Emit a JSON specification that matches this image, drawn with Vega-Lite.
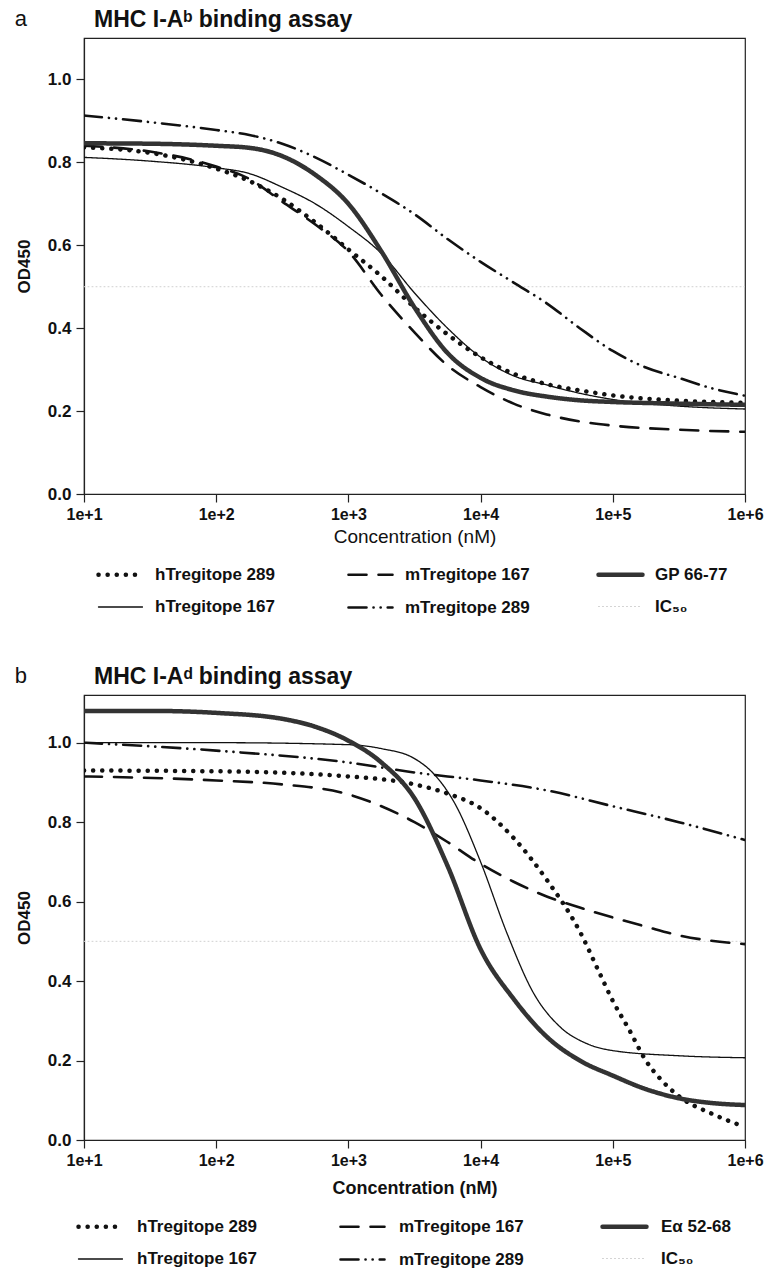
{
  "$schema": "https://vega.github.io/schema/vega-lite/v6.json",
  "background": "white",
  "padding": {"left": 14, "top": 8, "right": 0, "bottom": 0},
  "spacing": 49,
  "config": {
    "font": "Liberation Sans",
    "view": {"stroke": "#222", "strokeWidth": 1.2},
    "axis": {"labelFont": "Liberation Sans", "labelFontSize": 17, "labelFontWeight": "bold", "labelColor": "#111", "titleFont": "Liberation Sans", "titleFontSize": 17, "titleColor": "#111", "domainColor": "#222", "tickColor": "#222", "tickSize": 8, "grid": false, "domainWidth": 1.2, "tickWidth": 1.2},
    "legend": {"labelFont": "Liberation Sans", "labelFontSize": 17, "labelFontWeight": "bold", "labelColor": "#111"},
    "title": {"font": "Liberation Sans", "color": "#111"}
  },
  "datasets": {
    "a": [
      {"series": "IC₅₀", "conc": 10, "od": 0.5},
      {"series": "IC₅₀", "conc": 1000000, "od": 0.5},
      {"series": "hTregitope 289", "conc": 10, "od": 0.836},
      {"series": "hTregitope 289", "conc": 31.6, "od": 0.823},
      {"series": "hTregitope 289", "conc": 100, "od": 0.785},
      {"series": "hTregitope 289", "conc": 178, "od": 0.755},
      {"series": "hTregitope 289", "conc": 316, "od": 0.712},
      {"series": "hTregitope 289", "conc": 562, "od": 0.655},
      {"series": "hTregitope 289", "conc": 1000, "od": 0.59},
      {"series": "hTregitope 289", "conc": 1778, "od": 0.525},
      {"series": "hTregitope 289", "conc": 3162, "od": 0.45},
      {"series": "hTregitope 289", "conc": 5623, "od": 0.385},
      {"series": "hTregitope 289", "conc": 10000, "od": 0.33},
      {"series": "hTregitope 289", "conc": 17783, "od": 0.29},
      {"series": "hTregitope 289", "conc": 31623, "od": 0.265},
      {"series": "hTregitope 289", "conc": 56234, "od": 0.25},
      {"series": "hTregitope 289", "conc": 100000, "od": 0.238},
      {"series": "hTregitope 289", "conc": 316228, "od": 0.225},
      {"series": "hTregitope 289", "conc": 1000000, "od": 0.22},
      {"series": "hTregitope 167", "conc": 10, "od": 0.812},
      {"series": "hTregitope 167", "conc": 31.6, "od": 0.803},
      {"series": "hTregitope 167", "conc": 100, "od": 0.787},
      {"series": "hTregitope 167", "conc": 178, "od": 0.773},
      {"series": "hTregitope 167", "conc": 316, "od": 0.74},
      {"series": "hTregitope 167", "conc": 562, "od": 0.7},
      {"series": "hTregitope 167", "conc": 1000, "od": 0.645},
      {"series": "hTregitope 167", "conc": 1778, "od": 0.58},
      {"series": "hTregitope 167", "conc": 3162, "od": 0.485},
      {"series": "hTregitope 167", "conc": 5623, "od": 0.4},
      {"series": "hTregitope 167", "conc": 10000, "od": 0.33},
      {"series": "hTregitope 167", "conc": 17783, "od": 0.285},
      {"series": "hTregitope 167", "conc": 31623, "od": 0.263},
      {"series": "hTregitope 167", "conc": 56234, "od": 0.243},
      {"series": "hTregitope 167", "conc": 100000, "od": 0.228},
      {"series": "hTregitope 167", "conc": 316228, "od": 0.212},
      {"series": "hTregitope 167", "conc": 1000000, "od": 0.205},
      {"series": "mTregitope 167", "conc": 10, "od": 0.84},
      {"series": "mTregitope 167", "conc": 31.6, "od": 0.826},
      {"series": "mTregitope 167", "conc": 100, "od": 0.79},
      {"series": "mTregitope 167", "conc": 178, "od": 0.76},
      {"series": "mTregitope 167", "conc": 316, "od": 0.705},
      {"series": "mTregitope 167", "conc": 562, "od": 0.65},
      {"series": "mTregitope 167", "conc": 1000, "od": 0.585},
      {"series": "mTregitope 167", "conc": 1778, "od": 0.48},
      {"series": "mTregitope 167", "conc": 3162, "od": 0.39},
      {"series": "mTregitope 167", "conc": 5623, "od": 0.31},
      {"series": "mTregitope 167", "conc": 10000, "od": 0.258},
      {"series": "mTregitope 167", "conc": 17783, "od": 0.218},
      {"series": "mTregitope 167", "conc": 31623, "od": 0.192},
      {"series": "mTregitope 167", "conc": 56234, "od": 0.175},
      {"series": "mTregitope 167", "conc": 100000, "od": 0.165},
      {"series": "mTregitope 167", "conc": 316228, "od": 0.155},
      {"series": "mTregitope 167", "conc": 1000000, "od": 0.15},
      {"series": "mTregitope 289", "conc": 10, "od": 0.913},
      {"series": "mTregitope 289", "conc": 31.6, "od": 0.897},
      {"series": "mTregitope 289", "conc": 100, "od": 0.878},
      {"series": "mTregitope 289", "conc": 178, "od": 0.866},
      {"series": "mTregitope 289", "conc": 316, "od": 0.845},
      {"series": "mTregitope 289", "conc": 562, "od": 0.812},
      {"series": "mTregitope 289", "conc": 1000, "od": 0.77},
      {"series": "mTregitope 289", "conc": 1778, "od": 0.725},
      {"series": "mTregitope 289", "conc": 3162, "od": 0.675},
      {"series": "mTregitope 289", "conc": 5623, "od": 0.615},
      {"series": "mTregitope 289", "conc": 10000, "od": 0.56},
      {"series": "mTregitope 289", "conc": 17783, "od": 0.51},
      {"series": "mTregitope 289", "conc": 31623, "od": 0.46},
      {"series": "mTregitope 289", "conc": 56234, "od": 0.4},
      {"series": "mTregitope 289", "conc": 100000, "od": 0.345},
      {"series": "mTregitope 289", "conc": 177828, "od": 0.305},
      {"series": "mTregitope 289", "conc": 316228, "od": 0.28},
      {"series": "mTregitope 289", "conc": 562341, "od": 0.255},
      {"series": "mTregitope 289", "conc": 1000000, "od": 0.237},
      {"series": "GP 66-77", "conc": 10, "od": 0.846},
      {"series": "GP 66-77", "conc": 31.6, "od": 0.845},
      {"series": "GP 66-77", "conc": 100, "od": 0.84},
      {"series": "GP 66-77", "conc": 178, "od": 0.835},
      {"series": "GP 66-77", "conc": 316, "od": 0.815},
      {"series": "GP 66-77", "conc": 562, "od": 0.77},
      {"series": "GP 66-77", "conc": 1000, "od": 0.7},
      {"series": "GP 66-77", "conc": 1778, "od": 0.585},
      {"series": "GP 66-77", "conc": 3162, "od": 0.45},
      {"series": "GP 66-77", "conc": 5623, "od": 0.34},
      {"series": "GP 66-77", "conc": 10000, "od": 0.28},
      {"series": "GP 66-77", "conc": 17783, "od": 0.25},
      {"series": "GP 66-77", "conc": 31623, "od": 0.235},
      {"series": "GP 66-77", "conc": 56234, "od": 0.226},
      {"series": "GP 66-77", "conc": 100000, "od": 0.222},
      {"series": "GP 66-77", "conc": 316228, "od": 0.218},
      {"series": "GP 66-77", "conc": 1000000, "od": 0.215}
    ],
    "b": [
      {"series": "IC₅₀", "conc": 10, "od": 0.5},
      {"series": "IC₅₀", "conc": 1000000, "od": 0.5},
      {"series": "hTregitope 289", "conc": 10, "od": 0.93},
      {"series": "hTregitope 289", "conc": 100, "od": 0.928},
      {"series": "hTregitope 289", "conc": 1000, "od": 0.915},
      {"series": "hTregitope 289", "conc": 3162, "od": 0.895},
      {"series": "hTregitope 289", "conc": 5623, "od": 0.872},
      {"series": "hTregitope 289", "conc": 10000, "od": 0.835},
      {"series": "hTregitope 289", "conc": 17783, "od": 0.76},
      {"series": "hTregitope 289", "conc": 31623, "od": 0.655},
      {"series": "hTregitope 289", "conc": 56234, "od": 0.525},
      {"series": "hTregitope 289", "conc": 79433, "od": 0.42},
      {"series": "hTregitope 289", "conc": 100000, "od": 0.35},
      {"series": "hTregitope 289", "conc": 131826, "od": 0.28},
      {"series": "hTregitope 289", "conc": 177828, "od": 0.2},
      {"series": "hTregitope 289", "conc": 234423, "od": 0.15},
      {"series": "hTregitope 289", "conc": 316228, "od": 0.11},
      {"series": "hTregitope 289", "conc": 562341, "od": 0.066},
      {"series": "hTregitope 289", "conc": 1000000, "od": 0.033},
      {"series": "hTregitope 167", "conc": 10, "od": 1.0},
      {"series": "hTregitope 167", "conc": 100, "od": 1.0},
      {"series": "hTregitope 167", "conc": 1000, "od": 0.995},
      {"series": "hTregitope 167", "conc": 1778, "od": 0.985},
      {"series": "hTregitope 167", "conc": 3162, "od": 0.96},
      {"series": "hTregitope 167", "conc": 4467, "od": 0.92},
      {"series": "hTregitope 167", "conc": 6310, "od": 0.85},
      {"series": "hTregitope 167", "conc": 10000, "od": 0.7},
      {"series": "hTregitope 167", "conc": 15849, "od": 0.52},
      {"series": "hTregitope 167", "conc": 25119, "od": 0.37},
      {"series": "hTregitope 167", "conc": 39811, "od": 0.285},
      {"series": "hTregitope 167", "conc": 63096, "od": 0.243},
      {"series": "hTregitope 167", "conc": 100000, "od": 0.225},
      {"series": "hTregitope 167", "conc": 316228, "od": 0.212},
      {"series": "hTregitope 167", "conc": 1000000, "od": 0.207},
      {"series": "mTregitope 167", "conc": 10, "od": 0.915},
      {"series": "mTregitope 167", "conc": 100, "od": 0.905},
      {"series": "mTregitope 167", "conc": 316, "od": 0.895},
      {"series": "mTregitope 167", "conc": 1000, "od": 0.87},
      {"series": "mTregitope 167", "conc": 1778, "od": 0.84},
      {"series": "mTregitope 167", "conc": 3162, "od": 0.8},
      {"series": "mTregitope 167", "conc": 5623, "od": 0.75},
      {"series": "mTregitope 167", "conc": 10000, "od": 0.695},
      {"series": "mTregitope 167", "conc": 17783, "od": 0.65},
      {"series": "mTregitope 167", "conc": 31623, "od": 0.613},
      {"series": "mTregitope 167", "conc": 56234, "od": 0.585},
      {"series": "mTregitope 167", "conc": 100000, "od": 0.56},
      {"series": "mTregitope 167", "conc": 177828, "od": 0.537},
      {"series": "mTregitope 167", "conc": 316228, "od": 0.515},
      {"series": "mTregitope 167", "conc": 1000000, "od": 0.493},
      {"series": "mTregitope 289", "conc": 10, "od": 1.0},
      {"series": "mTregitope 289", "conc": 100, "od": 0.98},
      {"series": "mTregitope 289", "conc": 1000, "od": 0.95},
      {"series": "mTregitope 289", "conc": 3162, "od": 0.925},
      {"series": "mTregitope 289", "conc": 10000, "od": 0.905},
      {"series": "mTregitope 289", "conc": 31623, "od": 0.88},
      {"series": "mTregitope 289", "conc": 100000, "od": 0.84},
      {"series": "mTregitope 289", "conc": 316228, "od": 0.8},
      {"series": "mTregitope 289", "conc": 1000000, "od": 0.755},
      {"series": "Eα 52-68", "conc": 10, "od": 1.08},
      {"series": "Eα 52-68", "conc": 31.6, "od": 1.08},
      {"series": "Eα 52-68", "conc": 100, "od": 1.075},
      {"series": "Eα 52-68", "conc": 316, "od": 1.06},
      {"series": "Eα 52-68", "conc": 562, "od": 1.04},
      {"series": "Eα 52-68", "conc": 1000, "od": 1.005},
      {"series": "Eα 52-68", "conc": 1778, "od": 0.95},
      {"series": "Eα 52-68", "conc": 3162, "od": 0.86},
      {"series": "Eα 52-68", "conc": 5623, "od": 0.69},
      {"series": "Eα 52-68", "conc": 10000, "od": 0.48},
      {"series": "Eα 52-68", "conc": 17783, "od": 0.355},
      {"series": "Eα 52-68", "conc": 31623, "od": 0.26},
      {"series": "Eα 52-68", "conc": 56234, "od": 0.2},
      {"series": "Eα 52-68", "conc": 100000, "od": 0.162},
      {"series": "Eα 52-68", "conc": 177828, "od": 0.128},
      {"series": "Eα 52-68", "conc": 316228, "od": 0.105},
      {"series": "Eα 52-68", "conc": 562341, "od": 0.093},
      {"series": "Eα 52-68", "conc": 1000000, "od": 0.088}
    ]
  },
  "vconcat": [
    {
      "title": {"text": "a", "anchor": "start", "frame": "bounds", "fontSize": 22, "fontWeight": "normal", "dy": 23, "offset": 0},
      "vconcat": [
        {
          "width": 661,
          "height": 456,
          "title": {"text": "MHC I-Aᵇ binding assay", "anchor": "start", "frame": "group", "dx": 10, "fontSize": 23, "fontWeight": "bold", "offset": 6},
          "data": {"name": "a"},
          "mark": {"type": "line", "interpolate": "monotone", "strokeCap": "round", "clip": true},
          "encoding": {
            "x": {"field": "conc", "type": "quantitative", "scale": {"type": "log", "domain": [10, 1000000]}, "axis": {"values": [10, 100, 1000, 10000, 100000, 1000000], "labelExpr": "'1e+' + round(log(datum.value)/LN10)", "labelFlush": false, "labelFontSize": 16, "title": "Concentration (nM)", "titleFontWeight": "normal", "titleFontSize": 19, "labelPadding": 4, "titlePadding": 5}},
            "y": {"field": "od", "type": "quantitative", "scale": {"domain": [0, 1.1], "nice": false}, "axis": {"values": [0, 0.2, 0.4, 0.6, 0.8, 1.0], "format": ".1f", "title": "OD450", "titleFontWeight": "bold", "labelPadding": 5, "titlePadding": 14}},
            "color": {"field": "series", "type": "nominal", "scale": {"domain": ["hTregitope 289", "mTregitope 167", "GP 66-77", "hTregitope 167", "mTregitope 289", "IC₅₀"], "range": ["#111", "#111", "#333", "#111", "#111", "#d0d0d0"]}, "legend": {"title": null, "orient": "none", "legendX": 12, "legendY": 512, "direction": "horizontal", "columns": 3, "symbolType": "stroke", "symbolSize": 400, "columnPadding": 59, "rowPadding": -22, "labelOffset": 10, "gridAlign": "all", "encode": {"symbols": {"update": {"strokeCap": {"value": "round"}, "size": {"value": 1936}}}}}},
            "strokeDash": {"field": "series", "type": "nominal", "scale": {"domain": ["hTregitope 289", "mTregitope 167", "GP 66-77", "hTregitope 167", "mTregitope 289", "IC₅₀"], "range": [[0.1, 9], [18, 12], [1, 0], [1, 0], [18, 7, 0.1, 7, 0.1, 7], [1, 3]]}, "legend": {"title": null, "orient": "none", "legendX": 12, "legendY": 512, "direction": "horizontal", "columns": 3, "symbolType": "stroke", "symbolSize": 400, "columnPadding": 59, "rowPadding": -22, "labelOffset": 10, "gridAlign": "all", "encode": {"symbols": {"update": {"strokeCap": {"value": "round"}, "size": {"value": 1936}}}}}},
            "strokeWidth": {"field": "series", "type": "nominal", "scale": {"type": "ordinal", "domain": ["hTregitope 289", "mTregitope 167", "GP 66-77", "hTregitope 167", "mTregitope 289", "IC₅₀"], "range": [4.5, 2.6, 4.5, 1.3, 2.6, 1]}, "legend": {"title": null, "orient": "none", "legendX": 12, "legendY": 512, "direction": "horizontal", "columns": 3, "symbolType": "stroke", "symbolSize": 400, "columnPadding": 59, "rowPadding": -22, "labelOffset": 10, "gridAlign": "all", "encode": {"symbols": {"update": {"strokeCap": {"value": "round"}, "size": {"value": 1936}}}}}}
          }
        }
      ]
    },
    {
      "title": {"text": "b", "anchor": "start", "frame": "bounds", "fontSize": 22, "fontWeight": "normal", "dy": 23, "offset": 0},
      "vconcat": [
        {
          "width": 661,
          "height": 445,
          "title": {"text": "MHC I-Aᵈ binding assay", "anchor": "start", "frame": "group", "dx": 10, "fontSize": 23, "fontWeight": "bold", "offset": 6},
          "data": {"name": "b"},
          "mark": {"type": "line", "interpolate": "monotone", "strokeCap": "round", "clip": true},
          "encoding": {
            "x": {"field": "conc", "type": "quantitative", "scale": {"type": "log", "domain": [10, 1000000]}, "axis": {"values": [10, 100, 1000, 10000, 100000, 1000000], "labelExpr": "'1e+' + round(log(datum.value)/LN10)", "labelFlush": false, "labelFontSize": 16, "title": "Concentration (nM)", "titleFontWeight": "bold", "titleFontSize": 18, "labelPadding": 4, "titlePadding": 11}},
            "y": {"field": "od", "type": "quantitative", "scale": {"domain": [0, 1.12], "nice": false}, "axis": {"values": [0, 0.2, 0.4, 0.6, 0.8, 1.0], "format": ".1f", "title": "OD450", "titleFontWeight": "bold", "labelPadding": 5, "titlePadding": 14}},
            "color": {"field": "series", "type": "nominal", "scale": {"domain": ["hTregitope 289", "mTregitope 167", "Eα 52-68", "hTregitope 167", "mTregitope 289", "IC₅₀"], "range": ["#111", "#111", "#333", "#111", "#111", "#d0d0d0"]}, "legend": {"title": null, "orient": "none", "legendX": -8, "legendY": 507, "direction": "horizontal", "columns": 3, "symbolType": "stroke", "symbolSize": 400, "columnPadding": 69, "rowPadding": -22, "labelOffset": 12, "gridAlign": "all", "encode": {"symbols": {"update": {"strokeCap": {"value": "round"}, "size": {"value": 1936}}}}}},
            "strokeDash": {"field": "series", "type": "nominal", "scale": {"domain": ["hTregitope 289", "mTregitope 167", "Eα 52-68", "hTregitope 167", "mTregitope 289", "IC₅₀"], "range": [[0.1, 9], [18, 12], [1, 0], [1, 0], [18, 7, 0.1, 7, 0.1, 7], [1, 3]]}, "legend": {"title": null, "orient": "none", "legendX": -8, "legendY": 507, "direction": "horizontal", "columns": 3, "symbolType": "stroke", "symbolSize": 400, "columnPadding": 69, "rowPadding": -22, "labelOffset": 12, "gridAlign": "all", "encode": {"symbols": {"update": {"strokeCap": {"value": "round"}, "size": {"value": 1936}}}}}},
            "strokeWidth": {"field": "series", "type": "nominal", "scale": {"type": "ordinal", "domain": ["hTregitope 289", "mTregitope 167", "Eα 52-68", "hTregitope 167", "mTregitope 289", "IC₅₀"], "range": [4.5, 2.6, 4.5, 1.3, 2.6, 1]}, "legend": {"title": null, "orient": "none", "legendX": -8, "legendY": 507, "direction": "horizontal", "columns": 3, "symbolType": "stroke", "symbolSize": 400, "columnPadding": 69, "rowPadding": -22, "labelOffset": 12, "gridAlign": "all", "encode": {"symbols": {"update": {"strokeCap": {"value": "round"}, "size": {"value": 1936}}}}}}
          }
        }
      ]
    }
  ],
  "resolve": {"scale": {"color": "independent", "strokeDash": "independent", "strokeWidth": "independent", "x": "independent", "y": "independent"}, "legend": {"color": "independent", "strokeDash": "independent", "strokeWidth": "independent"}}
}
